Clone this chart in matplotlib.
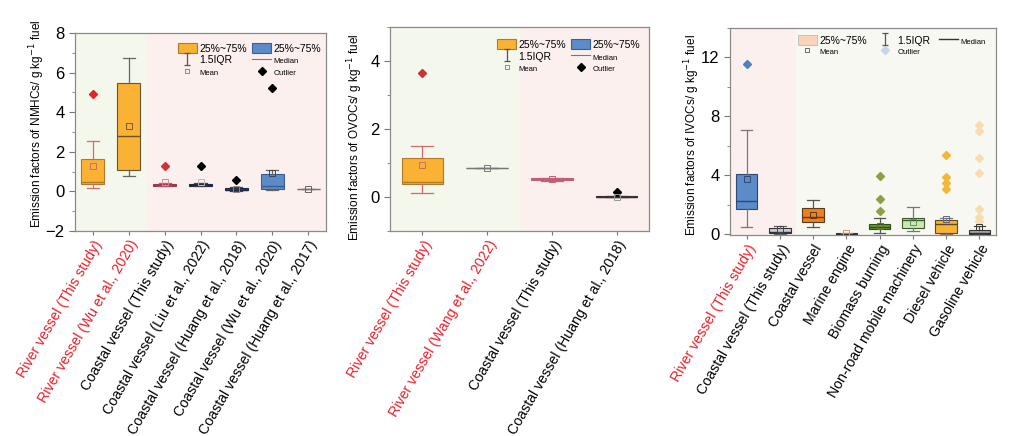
import numpy as np
import matplotlib.pyplot as plt
from matplotlib.lines import Line2D
from matplotlib.patches import Patch
from matplotlib.path import Path

plt.rcParams['font.family'] = ['Liberation Sans', 'DejaVu Sans']

# ---- panel 1: NMHCs ----
nmhcLabels = ['River vessel (This study)', 'River vessel (Wu et al., 2020)',
              'Coastal vessel (This study)', 'Coastal vessel (Liu et al., 2022)',
              'Coastal vessel (Huang et al., 2018)', 'Coastal vessel (Wu et al., 2020)',
              'Coastal vessel (Huang et al., 2017)']
nmhcQ1 = [0.37, 1.08, 0.28, 0.28, 0.05, 0.10, 0.12]
nmhcMed = [0.47, 2.80, 0.32, 0.33, 0.09, 0.27, 0.12]
nmhcQ3 = [1.63, 5.49, 0.38, 0.38, 0.15, 0.88, 0.12]
nmhcLo = [0.15, 0.80, 0.26, 0.26, 0.03, 0.07, 0.12]
nmhcHi = [2.53, 6.76, 0.40, 0.40, 0.20, 1.08, 0.12]
nmhcMean = [1.30, 3.30, 0.47, 0.45, 0.12, 0.95, 0.12]
nmhcOut = [[4.90], [], [1.29], [1.29], [0.57], [5.20], []]

# ---- panel 2: OVOCs ----
ovocLabels = ['River vessel (This study)', 'River vessel (Wang et al., 2022)',
              'Coastal vessel (This study)', 'Coastal vessel (Huang et al., 2018)']
ovocQ1 = [0.37, 0.84, 0.49, 0.00]
ovocMed = [0.45, 0.84, 0.52, 0.01]
ovocQ3 = [1.15, 0.84, 0.55, 0.02]
ovocLo = [0.11, 0.84, 0.48, 0.00]
ovocHi = [1.51, 0.84, 0.56, 0.03]
ovocMean = [0.95, 0.84, 0.52, 0.00]
ovocOut = [[3.64], [], [], [0.14]]

# ---- panel 3: IVOCs ----
ivocLabels = ['River vessel (This study)', 'Coastal vessel (This study)', 'Coastal vessel',
              'Marine engine', 'Biomass burning', 'Non-road mobile machinery',
              'Diesel vehicle', 'Gasoline vehicle']
ivocQ1 = [1.69, 0.09, 0.83, 0.00, 0.35, 0.38, 0.05, 0.03]
ivocMed = [2.26, 0.15, 1.17, 0.02, 0.50, 0.97, 0.68, 0.08]
ivocQ3 = [4.06, 0.40, 1.74, 0.05, 0.68, 1.10, 0.92, 0.25]
ivocLo = [0.50, 0.02, 0.50, 0.00, 0.10, 0.20, 0.00, 0.00]
ivocHi = [7.04, 0.52, 2.30, 0.08, 1.06, 1.83, 1.08, 0.55]
ivocMean = [3.72, 0.33, 1.26, 0.10, 0.55, 0.83, 1.05, 0.47]
ivocOut = [[11.53], [], [], [], [3.95, 2.35, 1.58], [],
           [5.35, 3.86, 3.47, 3.07], [7.38, 6.97, 5.19, 4.17, 1.69, 1.17, 0.88]]

RED = '#e8202a'
GREEN_BG = '#f3f7ec'
PINK_BG = '#fcf0ee'
ORANGE = '#f9b233'
BLUE = '#5b8bc8'

# whisker icon for the legend
iqrPath = Path([(-0.5, 1), (0.5, 1), (0, 1), (0, -1), (-0.5, -1), (0.5, -1)],
               [Path.MOVETO, Path.LINETO, Path.MOVETO, Path.LINETO, Path.MOVETO, Path.LINETO])


def drawBoxes(ax, q1, med, q3, lo, hi, mean, out, faces, edges, whisk, outCols, meanCols):
    stats = []
    for i in range(len(q1)):
        stats.append({'q1': q1[i], 'med': med[i], 'q3': q3[i], 'whislo': lo[i],
                      'whishi': hi[i], 'mean': mean[i], 'fliers': out[i]})
    res = ax.bxp(stats, positions=range(len(q1)), widths=0.64, capwidths=0.34,
                 patch_artist=True, showmeans=True, zorder=3)
    for i in range(len(q1)):
        box = res['boxes'][i]
        box.set_facecolor(faces[i])
        box.set_edgecolor(edges[i])
        box.set_linewidth(0.8)
        res['medians'][i].set_color(edges[i])
        res['medians'][i].set_linewidth(1.0)
        for k in (2 * i, 2 * i + 1):
            res['whiskers'][k].set_color(whisk[i])
            res['whiskers'][k].set_linewidth(0.9)
            res['caps'][k].set_color(whisk[i])
            res['caps'][k].set_linewidth(0.9)
        fl = res['fliers'][i]
        fl.set_marker('D')
        fl.set_markersize(4)
        fl.set_markerfacecolor(outCols[i])
        fl.set_markeredgecolor(outCols[i])
        mn = res['means'][i]
        mn.set_marker('s')
        mn.set_markersize(4.5)
        mn.set_markerfacecolor('none')
        mn.set_markeredgecolor(meanCols[i])
        mn.set_markeredgewidth(0.7)


def styleAxis(ax, labels, redCount, ylabel, ylim, major, minor, labelXY):
    n = len(labels)
    ax.set_xlim(-0.5, n - 0.5)
    ax.set_ylim(*ylim)
    ax.set_xticks(range(n))
    ax.set_xticklabels(labels, rotation=60, ha='right', rotation_mode='anchor', fontsize=10.2)
    for i, t in enumerate(ax.get_xticklabels()):
        if i < redCount:
            t.set_color(RED)
    ax.set_yticks(major)
    ax.set_yticks(minor, minor=True)
    ax.tick_params(axis='y', labelsize=12, direction='out', length=4, color='#777777')
    ax.tick_params(axis='y', which='minor', direction='out', length=2.5, color='#777777')
    ax.tick_params(axis='x', direction='out', length=3, color='#777777', pad=2)
    for s in ax.spines.values():
        s.set_color('#8a8a8a')
        s.set_linewidth(0.9)
    ax.set_ylabel(ylabel, fontsize=8.5)
    ax.yaxis.set_label_coords(*labelXY)


fig = plt.figure(figsize=(10.16, 4.36), dpi=100)

# ---- panel 1 ----
ax1 = fig.add_axes([0.0738, 0.4702, 0.2471, 0.4541])
ax1.axvspan(-0.5, 1.5, color=GREEN_BG, zorder=0, lw=0)
ax1.axvspan(1.5, 6.5, color=PINK_BG, zorder=0, lw=0)
drawBoxes(ax1, nmhcQ1, nmhcMed, nmhcQ3, nmhcLo, nmhcHi, nmhcMean, nmhcOut,
          faces=[ORANGE, ORANGE, '#c2566c', '#283a5e', '#2e3b5c', BLUE, '#888888'],
          edges=['#b07a2a', '#6b5330', '#9a3a50', '#1e2a44', '#1e2a44', '#3d5f8f', '#777777'],
          whisk=['#d46a6a', '#666666', '#c2566c', '#444444', '#444444', '#666666', '#777777'],
          outCols=[RED, 'k', '#d0303a', 'k', 'k', 'k', 'k'],
          meanCols=['#d46a6a', '#7a5a3a', '#d88a90', '#bbbbbb', '#888888', '#444444', '#666666'])
styleAxis(ax1, nmhcLabels, 2, r'Emission factors of NMHCs/ g kg$^{-1}$ fuel',
          (-2, 8), [-2, 0, 2, 4, 6, 8], [-1, 1, 3, 5, 7], (-0.112, 0.54))

# ---- panel 2 ----
ax2 = fig.add_axes([0.3839, 0.4702, 0.2549, 0.4679])
ax2.axvspan(-0.5, 1.5, color=GREEN_BG, zorder=0, lw=0)
ax2.axvspan(1.5, 3.5, color=PINK_BG, zorder=0, lw=0)
drawBoxes(ax2, ovocQ1, ovocMed, ovocQ3, ovocLo, ovocHi, ovocMean, ovocOut,
          faces=[ORANGE, '#888888', '#c2566c', '#333333'],
          edges=['#b07a2a', '#777777', '#c06078', '#333333'],
          whisk=['#d46a6a', '#777777', '#c06078', '#333333'],
          outCols=['#d0303a', 'k', 'k', 'k'],
          meanCols=['#d46a6a', '#777777', '#c06078', '#999999'])
styleAxis(ax2, ovocLabels, 2, r'Emission factors of OVOCs/ g kg$^{-1}$ fuel',
          (-1, 5), [0, 2, 4], [-1, 1, 3, 5], (-0.097, 0.46))

# ---- panel 3 ----
ax3 = fig.add_axes([0.7185, 0.4599, 0.2618, 0.4759])
ax3.axvspan(-0.5, 1.5, color=PINK_BG, zorder=0, lw=0)
ax3.axvspan(1.5, 7.5, color='#f7f8f1', zorder=0, lw=0)
drawBoxes(ax3, ivocQ1, ivocMed, ivocQ3, ivocLo, ivocHi, ivocMean, ivocOut,
          faces=[BLUE, '#c7cce0', '#f07f1e', '#e8a070', '#6e9c2e', '#c9e8b4', ORANGE, '#a8a8a8'],
          edges=['#2e4a72', '#333333', '#5a3a1a', '#333333', '#2e4a1a', '#3a5a2a', '#5a4a2a', '#333333'],
          whisk=['#777777', '#666666', '#555555', '#e09060', '#555555', '#777777', '#777777', '#444444'],
          outCols=['#4f80c0', 'k', 'k', 'k', '#8aa14a', 'k', '#f5b731', '#f8dcb0'],
          meanCols=['#2e4a72', '#444444', '#5a3a1a', '#e09060', '#5a6a4a', '#6a8a6a', '#5a6a8a', '#333333'])
styleAxis(ax3, ivocLabels, 1, r'Emission factors of IVOCs/ g kg$^{-1}$ fuel',
          (-0.1, 14), [0, 4, 8, 12], [2, 6, 10, 14], (-0.105, 0.485))

# ---- legends ----
def twoColLegend(ax, anchor, faceB, outCol):
    handles = [Patch(facecolor=ORANGE, edgecolor='#b07a2a', lw=0.8),
               Line2D([], [], marker=iqrPath, ls='none', color='#555555', markersize=9, mew=0.9),
               Line2D([], [], marker='s', ls='none', mfc='none', mec='#777777', markersize=3.5, mew=0.6),
               Patch(facecolor=faceB, edgecolor='#3d5f8f', lw=0.8),
               Line2D([], [], color='#777777', lw=0.8),
               Line2D([], [], marker='D', ls='none', color=outCol, markersize=4)]
    labels = ['25%~75%', '1.5IQR', 'Mean', '25%~75%', 'Median', 'Outlier']
    leg = ax.legend(handles, labels, ncol=2, loc='upper right', bbox_to_anchor=anchor,
                    frameon=False, fontsize=7.5, handlelength=1.8, handleheight=1.1,
                    labelspacing=0.1, columnspacing=0.5, handletextpad=0.25, borderpad=0.2)
    for i in (2, 4, 5):
        leg.get_texts()[i].set_fontsize(5.5)
    return leg

twoColLegend(ax1, (1.01, 0.985), BLUE, 'k')
twoColLegend(ax2, (0.995, 0.975), BLUE, 'k')

handles3 = [Patch(facecolor='#fbd3b8', edgecolor='#bbbbbb', lw=0.6),
            Line2D([], [], marker='s', ls='none', mfc='none', mec='#555555', markersize=3.5, mew=0.6),
            Line2D([], [], marker=iqrPath, ls='none', color='#555555', markersize=9, mew=0.9),
            Line2D([], [], marker='D', ls='none', color='#c8d4ec', markersize=4),
            Line2D([], [], color='#333333', lw=1.0),
            Line2D([], [], ls='none')]
labels3 = ['25%~75%', 'Mean', '1.5IQR', 'Outlier', 'Median', '']
leg3 = ax3.legend(handles3, labels3, ncol=3, loc='upper right', bbox_to_anchor=(0.99, 1.0),
                  frameon=False, fontsize=7.5, handlelength=1.8, handleheight=1.0,
                  labelspacing=0.05, columnspacing=0.8, handletextpad=0.3, borderpad=0.2)
for i in (1, 3, 4):
    leg3.get_texts()[i].set_fontsize(5.5)

fig.savefig('out.png', dpi=100)
